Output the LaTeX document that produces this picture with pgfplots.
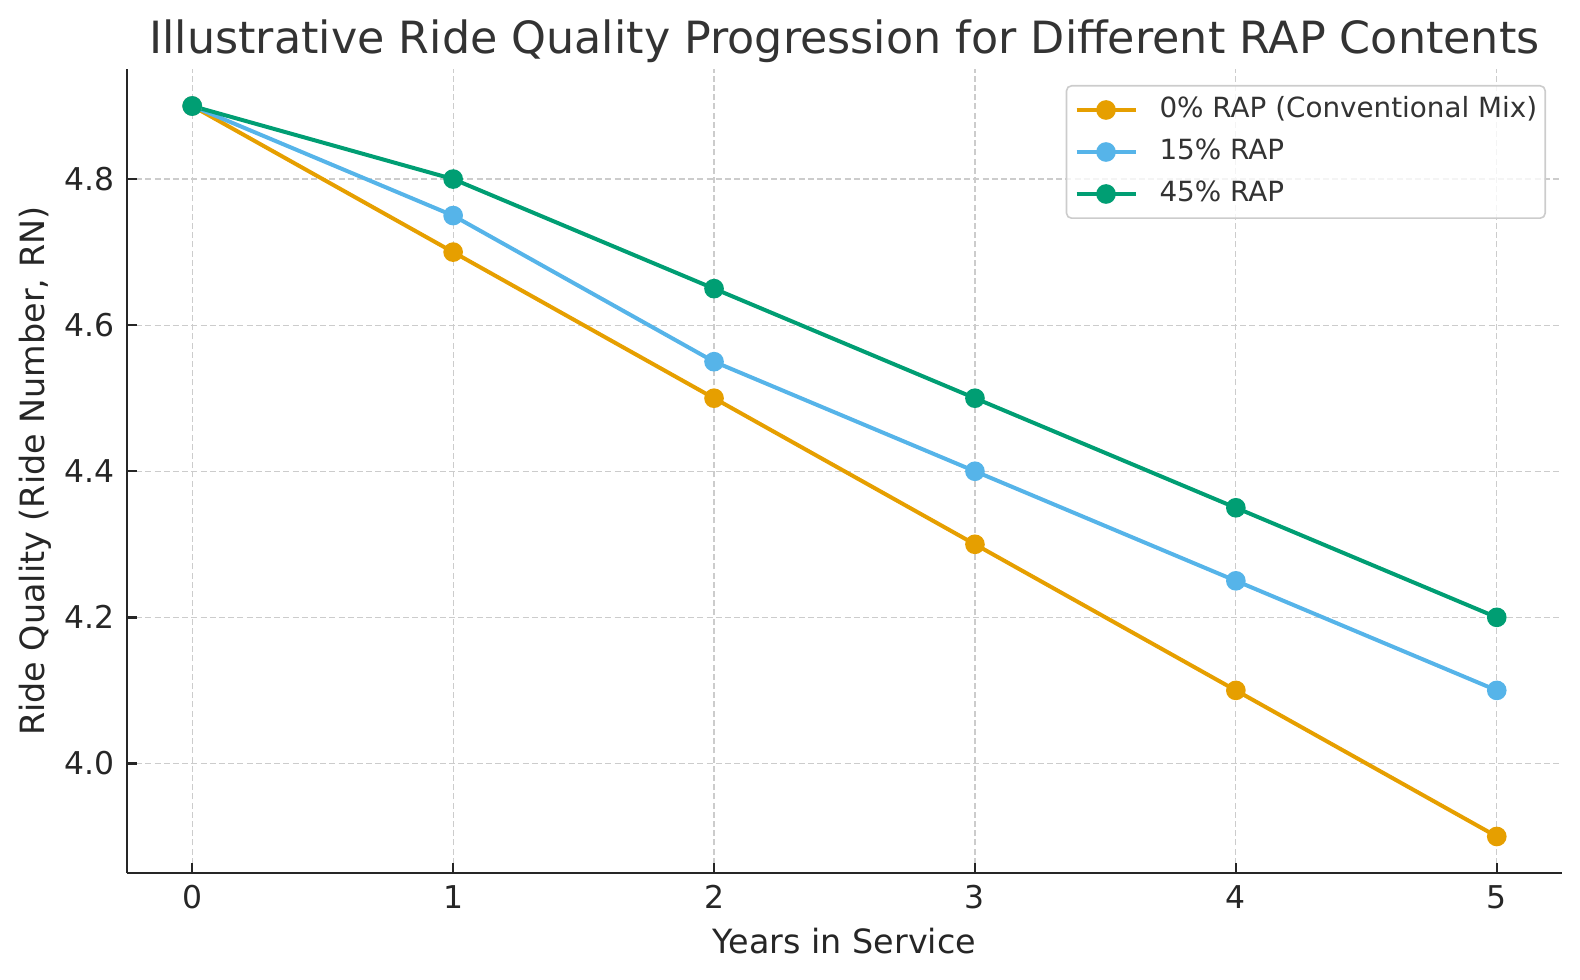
\documentclass[border=0pt]{standalone}
\usepackage{fontspec}
\setmainfont{DejaVu Sans}
\usepackage{pgfplots}
\pgfplotsset{compat=1.18}
\definecolor{cOrange}{HTML}{E69F00}
\definecolor{cSky}{HTML}{56B4E9}
\definecolor{cGreen}{HTML}{009E73}
\definecolor{txt}{HTML}{262626}
\definecolor{ttl}{HTML}{333333}
\begin{document}
\begin{tikzpicture}
\begin{axis}[
  at={(0,0)}, anchor=south west,
  scale only axis,
  width=717.5pt, height=401.75pt,
  xmin=-0.25, xmax=5.25,
  ymin=3.85, ymax=4.95,
  xtick={0,1,2,3,4,5},
  ytick={4.0,4.2,4.4,4.6,4.8},
  /pgf/number format/assume math mode=true,
  axis x line*=bottom, axis y line*=left,
  axis line style={line width=1.25pt, color=txt},
  tick align=inside,
  major tick length=5pt,
  every tick/.style={line width=1.2pt, color=txt},
  tick label style={font=\fontsize{15.7}{18}\selectfont, color=txt, inner sep=0pt},
  xticklabel style={anchor=base, yshift=-17.5pt},
  yticklabel style={anchor=east, xshift=-6pt, /pgf/number format/fixed, /pgf/number format/fixed zerofill, /pgf/number format/precision=1},
  grid=major,
  grid style={line width=0.6pt, color=black!20, dash pattern=on 3pt off 1.6pt},
  xlabel={Years in Service},
  ylabel={Ride Quality (Ride Number, RN)},
  every axis x label/.style={at={([yshift=-40pt]axis description cs:0.5,0)}, anchor=base, font=\fontsize{16.7}{20}\selectfont, color=txt, inner sep=0pt},
  every axis y label/.style={at={([xshift=-41pt]axis description cs:0,0.5)}, rotate=90, anchor=base, font=\fontsize{16.7}{20}\selectfont, color=txt, inner sep=0pt},
  title={Illustrative Ride Quality Progression for Different RAP Contents},
  every axis title/.style={at={([yshift=7.75pt]axis description cs:0.5,1)}, anchor=base, font=\fontsize{22.2}{26}\selectfont, color=ttl, inner sep=0pt},
  legend cell align=left,
  legend style={at={(axis description cs:1,1)}, anchor=north east, xshift=-8pt, yshift=-7.75pt,
    draw=black!20, line width=0.8pt, rounded corners=2.5pt, fill=white, fill opacity=0.8, text opacity=1, draw opacity=1,
    font=\fontsize{13.9}{16}\selectfont, text=ttl,
    inner xsep=4pt, inner ysep=5.5pt, row sep=7.8pt,
    nodes={inner sep=0pt, text height=10.2pt, text depth=3pt}},
  /tikz/every odd column/.append style={column sep=11pt},
  legend image code/.code={\draw[mark repeat=2,mark phase=2,fill opacity=1,#1] plot coordinates {(0pt,0pt)(14.75pt,0pt)(29.5pt,0pt)};},
  every axis plot/.append style={line width=2pt, mark=*, mark size=3.9pt, mark options={solid, fill opacity=1}},
]
\addplot[color=cOrange, mark options={fill=cOrange, draw=cOrange}] coordinates {(0,4.9) (1,4.7) (2,4.5) (3,4.3) (4,4.1) (5,3.9)};
\addlegendentry{0\% RAP (Conventional Mix)}
\addplot[color=cSky, mark options={fill=cSky, draw=cSky}] coordinates {(0,4.9) (1,4.75) (2,4.55) (3,4.4) (4,4.25) (5,4.1)};
\addlegendentry{15\% RAP}
\addplot[color=cGreen, mark options={fill=cGreen, draw=cGreen}] coordinates {(0,4.9) (1,4.8) (2,4.65) (3,4.5) (4,4.35) (5,4.2)};
\addlegendentry{45\% RAP}
\end{axis}
\pgfresetboundingbox
\useasboundingbox (-63.5pt,-53.5pt) rectangle (726.5pt,436.5pt);
\end{tikzpicture}
\end{document}
